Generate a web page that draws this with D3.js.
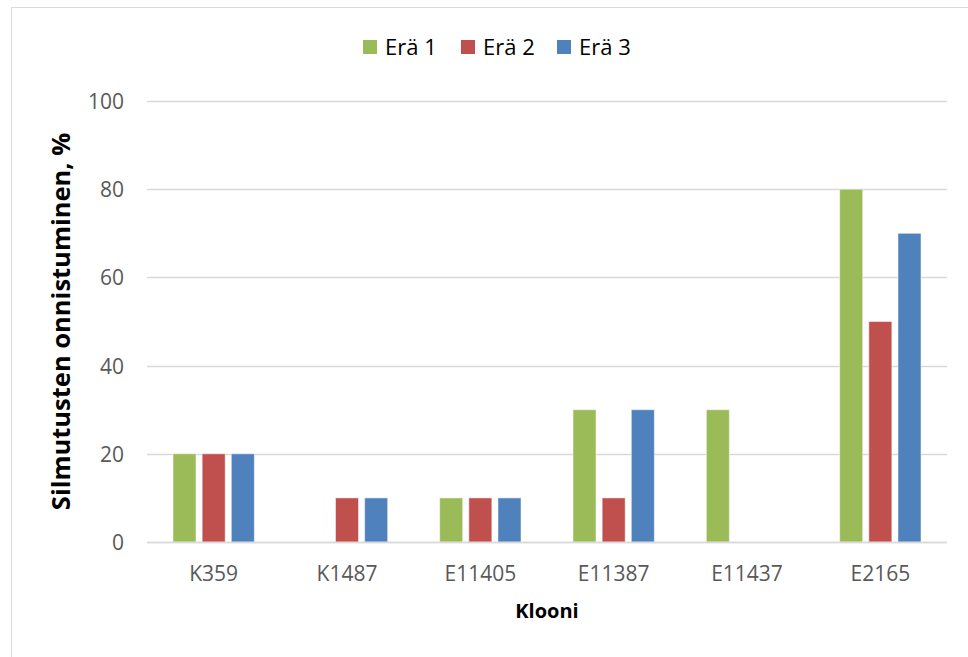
<!DOCTYPE html>
<html>
<head>
<meta charset="utf-8">
<script src="https://d3js.org/d3.v7.min.js"></script>
<style>
  html, body { margin: 0; padding: 0; background: #fff; }
  svg { display: block; }
</style>
</head>
<body>
<svg id="chart" width="968" height="657"></svg>
<script>
// Budding success by clone and batch
const categories = ["K359", "K1487", "E11405", "E11387", "E11437", "E2165"];
const seriesNames = ["Erä 1", "Erä 2", "Erä 3"];
const era1 = [20, 0, 10, 30, 30, 80];
const era2 = [20, 10, 10, 10, 0, 50];
const era3 = [20, 10, 10, 30, 0, 70];
const yTicks = [0, 20, 40, 60, 80, 100];
const colors = ["#9BBB59", "#C0504D", "#4F81BD"];

const seriesValues = [era1, era2, era3];
const fontFamily = "'Open Sans', 'Liberation Sans', sans-serif";

const svg = d3.select("#chart");

// chart frame
svg.append("rect")
  .attr("x", 11.5).attr("y", 7.5)
  .attr("width", 968).attr("height", 660)
  .attr("fill", "none").attr("stroke", "#d9d9d9").attr("stroke-width", 1);

const plot = { left: 147, right: 947, top: 101, bottom: 542 };

const x0 = d3.scaleBand()
  .domain(categories)
  .range([plot.left, plot.right])
  .paddingInner(0.39)
  .paddingOuter(0.195);

const x1 = d3.scaleBand()
  .domain(seriesNames)
  .range([0, x0.bandwidth()])
  .paddingInner(0.21);

const y = d3.scaleLinear().domain([0, 100]).range([plot.bottom, plot.top]);

// gridlines
svg.append("g")
  .selectAll("line")
  .data(yTicks)
  .join("line")
  .attr("x1", plot.left).attr("x2", plot.right)
  .attr("y1", d => Math.round(y(d)) + 0.5).attr("y2", d => Math.round(y(d)) + 0.5)
  .attr("stroke", "#d9d9d9").attr("stroke-width", 1.5);

// y tick labels
const yAxis = d3.axisLeft(y).tickValues(yTicks).tickSize(0).tickPadding(0);
const gy = svg.append("g")
  .attr("transform", `translate(124,0)`)
  .call(yAxis);
gy.select(".domain").remove();
gy.selectAll("text")
  .attr("font-family", fontFamily)
  .attr("font-size", 21)
  .attr("fill", "#595959")
  .attr("dy", "0.36em");

// bars
const groups = svg.append("g")
  .selectAll("g")
  .data(categories)
  .join("g")
  .attr("transform", d => `translate(${x0(d)},0)`);

groups.selectAll("rect")
  .data((c, i) => seriesNames.map((s, j) => ({ s, v: seriesValues[j][i], j })))
  .join("rect")
  .filter(d => d.v > 0)
  .attr("x", d => x1(d.s))
  .attr("y", d => y(d.v))
  .attr("width", x1.bandwidth())
  .attr("height", d => y(0) - y(d.v))
  .attr("fill", d => colors[d.j])
  .attr("stroke", "#ffffff")
  .attr("stroke-opacity", 0.5)
  .attr("stroke-width", 1);

// baseline
svg.append("line")
  .attr("x1", plot.left).attr("x2", plot.right)
  .attr("y1", y(0) + 0.5).attr("y2", y(0) + 0.5)
  .attr("stroke", "#d9d9d9").attr("stroke-width", 1.5);

// x category labels
const xAxis = d3.axisBottom(x0).tickSize(0).tickPadding(0);
const gx = svg.append("g")
  .attr("transform", `translate(0,${plot.bottom})`)
  .call(xAxis);
gx.select(".domain").remove();
gx.selectAll("text")
  .attr("font-family", fontFamily)
  .attr("font-size", 21)
  .attr("fill", "#595959")
  .attr("dy", null)
  .attr("y", 39);

// axis titles
svg.append("text")
  .attr("x", (plot.left + plot.right) / 2)
  .attr("y", 618)
  .attr("text-anchor", "middle")
  .attr("font-family", fontFamily)
  .attr("font-size", 20)
  .attr("font-weight", "bold")
  .attr("fill", "#000")
  .text("Klooni");

svg.append("text")
  .attr("transform", `translate(70,${(plot.top + plot.bottom) / 2}) rotate(-90)`)
  .attr("text-anchor", "middle")
  .attr("font-family", fontFamily)
  .attr("font-size", 25.5)
  .attr("font-weight", "bold")
  .attr("fill", "#000")
  .text("Silmutusten onnistuminen, %");

// legend
const legendX = [363, 461, 557];
const legend = svg.append("g")
  .selectAll("g")
  .data(seriesNames)
  .join("g")
  .attr("transform", (d, i) => `translate(${legendX[i]},40)`);
legend.append("rect")
  .attr("width", 14).attr("height", 14)
  .attr("fill", (d, i) => colors[i]);
legend.append("text")
  .attr("x", 22).attr("y", 14.5)
  .attr("font-family", fontFamily)
  .attr("font-size", 22)
  .attr("fill", "#000")
  .text(d => d);
</script>
</body>
</html>
